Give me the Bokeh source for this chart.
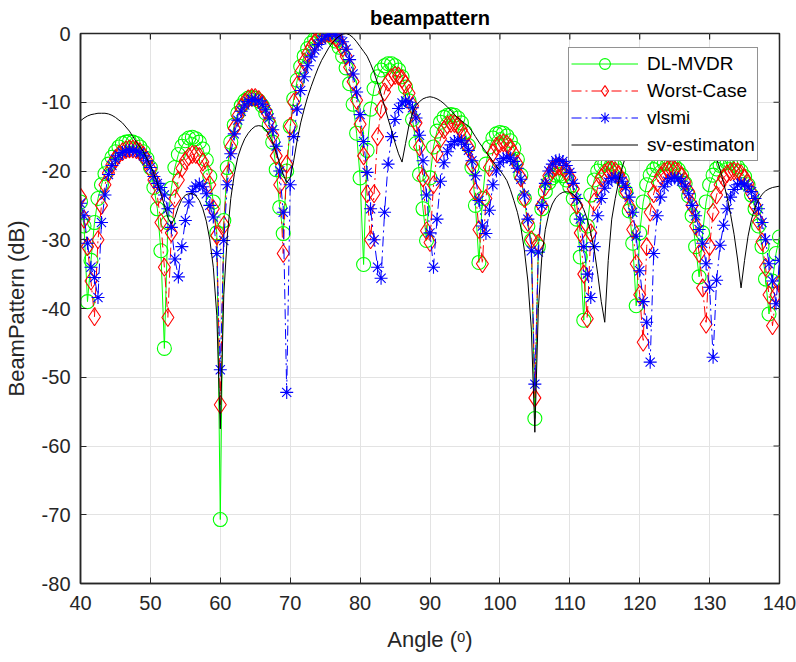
import numpy as np
from bokeh.plotting import figure
from bokeh.models import Range1d, FixedTicker, Legend, LegendItem
from bokeh.embed import file_html
from bokeh.resources import INLINE

# sampling grid of the beampattern (degrees)
angle = np.arange(40.0, 140.0 + 0.25, 0.5)

# DL-MVDR (dB), 0.5 deg steps from 40 to 140
dl_mvdr = (
    [-24.5, -28.0, -39.0, -33.0, -27.5, -24.0, -22.0, -20.4, -19.0, -18.0,
     -17.2, -16.5, -16.0, -15.8, -15.7, -15.8, -16.0, -16.5, -17.2, -18.2] +
    [-19.5, -22.4, -25.5, -31.6, -45.8, -27.5, -22.5, -19.5, -17.6, -16.4,
     -15.6, -15.2, -15.1, -15.3, -15.8, -16.8, -18.4, -20.8, -24.5, -29.0] +
    [-70.7, -27.2, -19.5, -15.8, -13.3, -11.6, -10.5, -9.8, -9.4, -9.3,
     -9.4, -9.8, -10.5, -11.6, -13.3, -15.8, -19.8, -25.3, -29.1, -20.0] +
    [-13.5, -9.5, -6.8, -4.8, -3.3, -2.2, -1.4, -0.8, -0.4, -0.1,
     0.0, -0.1, -0.5, -1.1, -2.0, -3.3, -5.0, -7.3, -10.3, -14.5] +
    [-21.0, -33.6, -17.0, -11.0, -8.0, -6.3, -5.3, -4.7, -4.4, -4.4,
     -4.7, -5.3, -6.3, -7.8, -9.8, -12.5, -16.0, -20.5, -25.5, -30.1] +
    [-21.0, -16.5, -14.2, -12.9, -12.2, -11.9, -11.8, -11.9, -12.3, -13.0,
     -14.3, -16.3, -19.5, -25.0, -33.3, -24.0, -19.0, -16.5, -15.2, -14.6] +
    [-14.4, -14.5, -14.9, -15.6, -16.7, -18.3, -20.6, -24.0, -28.0, -30.1,
     -56.0, -31.0, -25.5, -23.0, -21.7, -21.0, -20.6, -20.5, -20.7, -21.3] +
    [-22.3, -24.0, -27.0, -32.5, -41.7, -28.0, -23.5, -21.3, -20.0, -19.3,
     -18.9, -18.8, -18.9, -19.3, -20.0, -21.2, -23.0, -25.8, -30.5, -39.6] +
    [-29.0, -24.5, -22.0, -20.6, -19.8, -19.3, -19.0, -18.9, -18.9, -19.0,
     -19.3, -19.8, -20.6, -21.8, -23.6, -26.5, -31.0, -35.4, -29.0, -24.5] +
    [-22.0, -20.6, -19.7, -19.2, -18.9, -18.8, -18.8, -19.0, -19.4, -20.0,
     -20.8, -22.0, -23.5, -25.5, -28.0, -31.0, -35.7, -40.8, -36.0, -32.0] +
    [-29.6]
)

# Worst-Case (dB)
worst_case = (
    [-23.8, -27.0, -31.0, -36.0, -41.2, -30.0, -25.0, -22.0, -20.3, -19.1,
     -18.2, -17.6, -17.2, -16.9, -16.8, -16.8, -16.9, -17.2, -17.7, -18.5] +
    [-19.7, -21.3, -23.7, -27.5, -34.0, -41.3, -29.0, -24.0, -21.3, -19.6,
     -18.5, -17.9, -17.6, -17.6, -17.9, -18.7, -20.0, -22.0, -25.5, -29.4] +
    [-54.0, -27.9, -20.5, -16.5, -13.8, -12.0, -10.8, -10.0, -9.5, -9.3,
     -9.3, -9.6, -10.2, -11.2, -12.7, -14.8, -17.8, -22.0, -32.0, -19.0] +
    [-13.5, -10.0, -7.5, -5.6, -4.1, -2.9, -2.0, -1.3, -0.7, -0.3,
     -0.05, 0.0, -0.2, -0.6, -1.2, -2.1, -3.3, -4.9, -7.0, -9.7] +
    [-13.2, -17.8, -23.3, -30.0, -23.3, -15.0, -11.0, -8.5, -7.1, -6.4,
     -6.1, -6.2, -6.6, -7.4, -8.7, -10.5, -13.0, -16.5, -21.0, -28.7] +
    [-30.4, -22.0, -17.5, -15.3, -14.0, -13.3, -13.1, -13.1, -13.4, -14.0,
     -15.0, -16.6, -19.0, -23.0, -28.5, -33.5, -24.0, -19.5, -17.4, -16.4] +
    [-16.0, -15.9, -16.1, -16.6, -17.5, -19.0, -21.0, -24.0, -27.5, -30.0,
     -53.0, -30.5, -25.0, -22.3, -20.7, -19.8, -19.4, -19.3, -19.5, -20.0] +
    [-21.0, -22.6, -25.0, -29.0, -35.0, -41.5, -29.0, -24.5, -22.3, -21.0,
     -20.3, -19.9, -19.8, -20.0, -20.5, -21.5, -23.0, -25.2, -28.5, -33.5] +
    [-38.0, -44.9, -31.0, -26.0, -23.3, -21.7, -20.7, -20.1, -19.8, -19.7,
     -19.8, -20.1, -20.7, -21.6, -23.0, -25.0, -28.0, -32.0, -37.0, -42.3] +
    [-31.0, -26.0, -23.5, -22.0, -21.0, -20.4, -20.1, -20.0, -20.1, -20.4,
     -21.0, -21.9, -23.2, -25.0, -27.3, -30.3, -34.0, -38.0, -42.5, -38.0] +
    [-36.4]
)

# vlsmi (dB)
vlsmi = (
    [-24.7, -26.5, -30.5, -34.0, -35.5, -38.4, -27.5, -23.5, -20.5, -19.2,
     -18.3, -17.7, -17.3, -17.1, -17.0, -17.0, -17.1, -17.3, -17.8, -18.5] +
    [-19.5, -20.8, -21.8, -22.4, -23.5, -25.5, -28.2, -32.8, -35.4, -31.0,
     -27.2, -24.5, -23.0, -22.2, -21.9, -22.3, -23.3, -25.0, -26.7, -32.0] +
    [-48.9, -30.1, -22.0, -17.5, -14.6, -12.6, -11.3, -10.4, -9.9, -9.6,
     -9.6, -9.8, -10.3, -11.1, -12.3, -14.0, -16.4, -20.0, -26.0, -52.2] +
    [-22.0, -15.0, -11.0, -8.3, -6.3, -4.7, -3.4, -2.4, -1.6, -0.9,
     -0.4, -0.1, 0.0, -0.1, -0.5, -1.2, -2.3, -3.8, -5.9, -8.5] +
    [-11.8, -15.7, -20.2, -25.5, -30.0, -34.0, -35.6, -26.0, -19.0, -15.0,
     -12.5, -10.9, -10.1, -9.8, -10.0, -10.8, -12.3, -14.8, -18.5, -23.5] +
    [-29.0, -34.0, -27.0, -21.5, -18.8, -17.2, -16.2, -15.7, -15.5, -15.6,
     -16.1, -17.0, -18.5, -20.7, -24.3, -28.0, -29.1, -25.7, -22.0, -20.0] +
    [-18.8, -18.2, -18.0, -18.1, -18.6, -19.6, -21.2, -23.5, -27.0, -31.6,
     -51.0, -31.8, -25.0, -21.8, -20.0, -19.0, -18.5, -18.4, -18.6, -19.2] +
    [-20.2, -21.8, -24.0, -27.0, -31.0, -35.0, -38.4, -31.0, -26.5, -24.0,
     -22.5, -21.6, -21.1, -20.9, -21.0, -21.5, -22.4, -23.8, -26.0, -29.5] +
    [-34.5, -39.0, -42.0, -47.8, -32.0, -26.5, -23.8, -22.3, -21.5, -21.1,
     -21.0, -21.1, -21.5, -22.2, -23.3, -25.0, -26.5, -28.5, -30.5, -33.5] +
    [-36.9, -47.1, -35.9, -30.8, -27.9, -25.5, -23.8, -22.7, -22.0, -21.8,
     -21.9, -22.3, -23.0, -24.0, -25.5, -27.5, -30.0, -33.5, -36.0, -39.3] +
    [-33.0]
)

# sv-estimaton (dB)
sv_estimaton = (
    [-12.7, -12.3, -12.0, -11.8, -11.7, -11.6, -11.6, -11.6, -11.7, -11.9,
     -12.2, -12.6, -13.0, -13.6, -14.2, -15.0, -15.8, -16.5, -17.2, -18.2] +
    [-19.2, -20.4, -21.8, -23.3, -25.0, -26.8, -27.7, -26.8, -25.2, -24.1,
     -23.5, -23.3, -23.3, -23.6, -24.3, -25.5, -27.3, -30.0, -34.0, -41.0] +
    [-57.5, -38.0, -29.5, -24.0, -20.5, -18.0, -16.5, -15.3, -14.5, -13.9,
     -13.5, -13.4, -13.5, -14.0, -14.8, -15.9, -17.3, -18.9, -20.5, -21.7] +
    [-21.0, -18.5, -15.5, -13.0, -11.0, -9.2, -7.7, -6.3, -5.0, -3.9,
     -3.0, -2.1, -1.4, -0.8, -0.4, -0.1, 0.0, -0.2, -0.6, -1.2] +
    [-1.9, -2.6, -3.3, -4.4, -5.7, -7.2, -8.8, -10.6, -12.4, -14.1,
     -15.9, -17.5, -18.7, -16.0, -13.3, -11.6, -10.5, -9.9, -9.5, -9.3] +
    [-9.2, -9.3, -9.5, -9.8, -10.2, -10.7, -11.2, -11.8, -12.3, -12.7,
     -13.1, -13.5, -14.2, -15.0, -15.8, -16.5, -17.2, -17.9, -18.6, -19.3] +
    [-19.9, -20.6, -21.4, -22.7, -24.3, -26.0, -28.2, -31.5, -36.0, -43.0,
     -58.0, -40.0, -32.5, -28.5, -26.2, -24.8, -23.9, -23.4, -23.1, -23.0] +
    [-23.1, -23.4, -23.9, -24.6, -25.6, -27.0, -29.0, -31.5, -35.0, -39.0,
     -42.0, -33.0, -27.0, -24.0, -21.5, -19.5, -17.8, -16.2, -14.8, -13.6] +
    [-12.6, -11.7, -11.0, -10.4, -10.0, -9.7, -9.5, -9.5, -9.6, -9.9,
     -10.3, -10.8, -11.5, -12.1, -12.8, -13.5, -14.2, -14.8, -15.5, -16.0] +
    [-16.5, -17.0, -18.2, -19.8, -21.7, -23.8, -26.3, -29.2, -32.8, -37.0,
     -33.0, -29.5, -27.0, -25.3, -24.2, -23.4, -22.9, -22.6, -22.4, -22.3] +
    [-22.2]
)

x_ticks = [40, 50, 60, 70, 80, 90, 100, 110, 120, 130, 140]
y_ticks = [-80, -70, -60, -50, -40, -30, -20, -10, 0]

FONT = "Liberation Sans"
AX = "#262626"
FRAME_W, FRAME_H = 699, 550
X0, X1, Y0, Y1 = 40, 140, -80, 0

p = figure(frame_width=FRAME_W, frame_height=FRAME_H,
           x_range=Range1d(X0, X1), y_range=Range1d(Y0, Y1),
           output_backend="svg", toolbar_location=None,
           min_border_left=79, min_border_right=18,
           min_border_top=33, min_border_bottom=79,
           background_fill_color="white", border_fill_color="white")
p.outline_line_color = AX
p.outline_line_width = 1.5

p.title.text = "beampattern"
p.title.align = "center"
p.title.text_font = FONT
p.title.text_font_size = "20px"
p.title.text_font_style = "bold"
p.title.text_color = "black"
p.title.standoff = 9

p.xaxis.ticker = FixedTicker(ticks=x_ticks)
p.yaxis.ticker = FixedTicker(ticks=y_ticks)
p.xaxis.major_label_overrides = {t: str(t) for t in x_ticks}
p.yaxis.major_label_overrides = {t: str(t) for t in y_ticks}
p.xaxis.axis_label = "Angle (ᵒ)"
p.yaxis.axis_label = "BeamPattern (dB)"
for ax in [p.xaxis[0], p.yaxis[0]]:
    ax.axis_line_color = AX
    ax.axis_line_width = 1.5
    ax.major_tick_line_color = AX
    ax.major_tick_in = 6
    ax.major_tick_out = 0
    ax.minor_tick_line_color = None
    ax.major_label_text_font = FONT
    ax.major_label_text_font_size = "20px"
    ax.major_label_text_color = AX
    ax.axis_label_text_font = FONT
    ax.axis_label_text_font_size = "22px"
    ax.axis_label_text_font_style = "normal"
    ax.axis_label_text_color = AX
p.xaxis.major_label_standoff = 12
p.xaxis.axis_label_standoff = 14
p.yaxis.major_label_standoff = 10
p.yaxis.axis_label_standoff = 10

# inward ticks on the top and right edges of the box
tick_dy = 6 * (Y1 - Y0) / FRAME_H
tick_dx = 6 * (X1 - X0) / FRAME_W
p.segment(x0=x_ticks, y0=[Y1] * len(x_ticks), x1=x_ticks, y1=[Y1 - tick_dy] * len(x_ticks),
          line_color=AX, line_width=1.2)
p.segment(x0=[X1] * len(y_ticks), y0=y_ticks, x1=[X1 - tick_dx] * len(y_ticks), y1=y_ticks,
          line_color=AX, line_width=1.2)

p.grid.grid_line_color = "#e3e3e3"
p.grid.grid_line_width = 1

DASHDOT = "10 4 2 4"
g_line = p.line(angle, dl_mvdr, line_color="#00ff00", line_width=1)
g_pts = p.scatter(angle, dl_mvdr, marker="circle", size=14, fill_color=None,
                  line_color="#00ff00", line_width=1.1)
r_line = p.line(angle, worst_case, line_color="#ff0000", line_width=1, line_dash=DASHDOT)
r_pts = p.scatter(angle, worst_case, marker="diamond", size=18,
                  fill_color=None, line_color="#ff0000", line_width=1.1)
b_line = p.line(angle, vlsmi, line_color="#0000ff", line_width=1, line_dash=DASHDOT)
b_pts = p.scatter(angle, vlsmi, marker="asterisk", size=13,
                  line_color="#0000ff", line_width=1.1)
k_line = p.line(angle, sv_estimaton, line_color="black", line_width=1)

legend = Legend(items=[
    LegendItem(label="DL-MVDR", renderers=[g_line, g_pts]),
    LegendItem(label="Worst-Case", renderers=[r_line, r_pts]),
    LegendItem(label="vlsmi", renderers=[b_line, b_pts]),
    LegendItem(label="sv-estimaton", renderers=[k_line]),
], location=(488, 422), label_text_font=FONT, label_text_font_size="19px",
    label_text_color="black", glyph_width=67, glyph_height=27, label_standoff=9,
    padding=2, spacing=0, margin=0, border_line_color=AX, border_line_width=1,
    background_fill_color="white", background_fill_alpha=1)
p.add_layout(legend)

open("out.html", "w").write(file_html(p, INLINE))
